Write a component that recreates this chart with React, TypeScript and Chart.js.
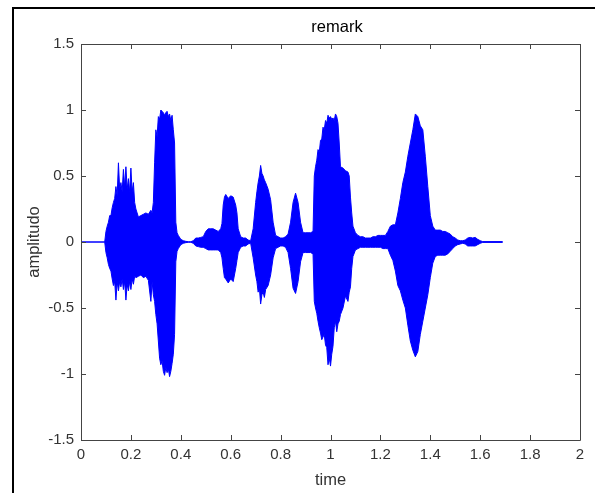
import React, { useEffect, useRef } from 'react';
import { Chart, registerables } from 'chart.js';

Chart.register(...registerables);

// sample times (s) at which the envelope of the waveform was read
const sampleTimes = [
  0, 0.095, 0.10, 0.105, 0.11, 0.115, 0.12, 0.125, 0.13, 0.135,
  0.14, 0.145, 0.15, 0.155, 0.16, 0.165, 0.17, 0.175, 0.18, 0.185,
  0.19, 0.195, 0.20, 0.205, 0.21, 0.215, 0.22, 0.23, 0.24, 0.25,
  0.26, 0.27, 0.28, 0.285, 0.29, 0.295, 0.30, 0.305, 0.31, 0.315,
  0.32, 0.325, 0.33, 0.335, 0.34, 0.345, 0.35, 0.355, 0.36, 0.365,
  0.37, 0.375, 0.38, 0.385, 0.39, 0.40, 0.41, 0.42, 0.43, 0.44,
  0.45, 0.46, 0.47, 0.48, 0.49, 0.50, 0.51, 0.52, 0.53, 0.54,
  0.55, 0.56, 0.565, 0.57, 0.575, 0.58, 0.59, 0.60, 0.61, 0.62,
  0.625, 0.63, 0.64, 0.65, 0.66, 0.67, 0.68, 0.69, 0.70, 0.705,
  0.71, 0.715, 0.72, 0.725, 0.73, 0.735, 0.74, 0.75, 0.76, 0.77,
  0.78, 0.79, 0.80, 0.81, 0.82, 0.83, 0.84, 0.85, 0.86, 0.87,
  0.88, 0.89, 0.90, 0.91, 0.92, 0.93, 0.935, 0.94, 0.945, 0.95,
  0.955, 0.96, 0.965, 0.97, 0.975, 0.98, 0.985, 0.99, 0.995, 1.00,
  1.005, 1.01, 1.015, 1.02, 1.025, 1.03, 1.035, 1.04, 1.05, 1.06,
  1.07, 1.075, 1.08, 1.085, 1.09, 1.10, 1.11, 1.12, 1.13, 1.14,
  1.15, 1.16, 1.17, 1.18, 1.19, 1.20, 1.21, 1.22, 1.23, 1.24,
  1.25, 1.26, 1.27, 1.28, 1.29, 1.30, 1.31, 1.32, 1.33, 1.34,
  1.35, 1.36, 1.37, 1.38, 1.39, 1.40, 1.41, 1.42, 1.43, 1.44,
  1.45, 1.46, 1.47, 1.48, 1.49, 1.50, 1.51, 1.52, 1.53, 1.54,
  1.55, 1.56, 1.57, 1.58, 1.59, 1.60, 1.61, 1.69,
];

// upper envelope of the amplitude (one value per sample time)
const upperEnvelope = [
  0, 0, 0.08, 0.12, 0.15, 0.2, 0.2, 0.26, 0.3, 0.33,
  0.42, 0.35, 0.6, 0.4, 0.45, 0.38, 0.55, 0.42, 0.57, 0.4,
  0.48, 0.38, 0.56, 0.38, 0.45, 0.3, 0.25, 0.19, 0.2, 0.21,
  0.22, 0.21, 0.24, 0.22, 0.3, 0.6, 0.85, 0.8, 0.95, 0.93,
  1.0, 0.99, 0.98, 0.96, 0.98, 0.99, 0.95, 0.97, 0.92, 0.96,
  0.85, 0.75, 0.15, 0.07, 0.05, 0.02, 0.01, 0.005, 0.002, 0.002,
  0.01, 0.03, 0.03, 0.035, 0.04, 0.08, 0.1, 0.1, 0.1, 0.09,
  0.08, 0.1, 0.14, 0.28, 0.34, 0.36, 0.33, 0.35, 0.34, 0.28,
  0.22, 0.1, 0.04, 0.03, 0.03, 0.015, 0.01, 0.1, 0.3, 0.38,
  0.45, 0.5, 0.58, 0.52, 0.5, 0.47, 0.45, 0.4, 0.32, 0.15,
  0.05, 0.04, 0.03, 0.03, 0.04, 0.06, 0.15, 0.3, 0.37, 0.3,
  0.15, 0.07, 0.07, 0.07, 0.07, 0.08, 0.5, 0.57, 0.62, 0.7,
  0.68, 0.77, 0.78, 0.87, 0.85, 0.92, 0.9, 0.96, 0.94, 0.95,
  0.93, 0.94, 0.92, 0.97, 0.95, 0.9, 0.75, 0.57, 0.56, 0.54,
  0.53, 0.5, 0.34, 0.22, 0.12, 0.07, 0.05, 0.04, 0.04, 0.03,
  0.03, 0.03, 0.04, 0.04, 0.05, 0.05, 0.05, 0.05, 0.08, 0.12,
  0.13, 0.13, 0.22, 0.33, 0.45, 0.53, 0.65, 0.75, 0.85, 0.97,
  0.95, 0.88, 0.85, 0.65, 0.42, 0.2, 0.12, 0.09, 0.09, 0.09,
  0.08, 0.08, 0.07, 0.06, 0.04, 0.03, 0.015, 0.01, 0.01, 0.015,
  0.03, 0.035, 0.03, 0.035, 0.02, 0.01, 0.003, 0.003,
];

// lower envelope of the amplitude (one value per sample time)
const lowerEnvelope = [
  0, 0, -0.08, -0.12, -0.17, -0.2, -0.22, -0.28, -0.33, -0.3,
  -0.44, -0.3, -0.37, -0.3, -0.34, -0.28, -0.36, -0.3, -0.44, -0.32,
  -0.37, -0.3, -0.36, -0.28, -0.32, -0.26, -0.27, -0.26, -0.25, -0.27,
  -0.26, -0.29, -0.45, -0.3, -0.4, -0.45, -0.55, -0.62, -0.75, -0.88,
  -0.93, -0.9, -0.98, -1.01, -0.95, -0.99, -0.96, -1.02, -0.98, -0.92,
  -0.85, -0.7, -0.15, -0.07, -0.05, -0.02, -0.01, -0.005, -0.002, -0.002,
  -0.01, -0.03, -0.035, -0.04, -0.04, -0.05, -0.06, -0.06, -0.06, -0.06,
  -0.06, -0.08, -0.12, -0.2, -0.27, -0.28, -0.31, -0.28, -0.3, -0.2,
  -0.14, -0.08, -0.04, -0.03, -0.03, -0.015, -0.01, -0.12, -0.25, -0.3,
  -0.38, -0.35, -0.47, -0.4, -0.38, -0.42, -0.36, -0.33, -0.25, -0.12,
  -0.05, -0.04, -0.03, -0.03, -0.04, -0.08, -0.2, -0.35, -0.39, -0.3,
  -0.15, -0.08, -0.08, -0.08, -0.08, -0.09, -0.45, -0.5, -0.54, -0.6,
  -0.65, -0.69, -0.74, -0.72, -0.7, -0.78, -0.8, -0.93, -0.88, -0.94,
  -0.85, -0.79, -0.65, -0.6, -0.68, -0.62, -0.6, -0.55, -0.5, -0.41,
  -0.45, -0.38, -0.34, -0.2, -0.11, -0.06, -0.05, -0.04, -0.04, -0.04,
  -0.04, -0.04, -0.04, -0.04, -0.04, -0.04, -0.05, -0.05, -0.05, -0.1,
  -0.14, -0.22, -0.33, -0.37, -0.44, -0.5, -0.63, -0.75, -0.82, -0.87,
  -0.83, -0.7, -0.6, -0.5, -0.4, -0.27, -0.16, -0.11, -0.1, -0.1,
  -0.1, -0.1, -0.09, -0.07, -0.05, -0.03, -0.02, -0.015, -0.01, -0.015,
  -0.03, -0.03, -0.03, -0.03, -0.02, -0.01, -0.003, -0.003,
];

const xTickValues = [0, 0.2, 0.4, 0.6, 0.8, 1, 1.2, 1.4, 1.6, 1.8, 2];
const xTickLabels = ['0', '0.2', '0.4', '0.6', '0.8', '1', '1.2', '1.4', '1.6', '1.8', '2'];
const yTickValues = [-1.5, -1, -0.5, 0, 0.5, 1, 1.5];
const yTickLabels = ['-1.5', '-1', '-0.5', '0', '0.5', '1', '1.5'];

const chartTitle = 'remark';
const xAxisTitle = 'time';
const yAxisTitle = 'amplitudo';

const FONT = '"Liberation Sans", Arial, Helvetica, sans-serif';
const TEXT_COLOR = '#333333';
const AXIS_COLOR = '#444444';
const WAVE_COLOR = 'rgb(0, 0, 255)';

const boxPlugin = {
  id: 'matlabBox',
  afterDatasetsDraw(chart: any) {
    const { ctx, chartArea, scales } = chart;
    const { left, right, top, bottom } = chartArea;
    const tl = 5;
    ctx.save();
    ctx.strokeStyle = AXIS_COLOR;
    ctx.lineWidth = 1;
    ctx.beginPath();
    ctx.rect(Math.round(left) + 0.5, Math.round(top) + 0.5, Math.round(right - left), Math.round(bottom - top));
    ctx.stroke();
    ctx.beginPath();
    for (const v of xTickValues) {
      const px = Math.round(scales.x.getPixelForValue(v)) + 0.5;
      ctx.moveTo(px, bottom);
      ctx.lineTo(px, bottom - tl);
      ctx.moveTo(px, top);
      ctx.lineTo(px, top + tl);
    }
    for (const v of yTickValues) {
      const py = Math.round(scales.y.getPixelForValue(v)) + 0.5;
      ctx.moveTo(left, py);
      ctx.lineTo(left + tl, py);
      ctx.moveTo(right, py);
      ctx.lineTo(right - tl, py);
    }
    ctx.stroke();
    ctx.restore();
  },
  afterDraw(chart: any) {
    const { ctx } = chart;
    ctx.save();
    ctx.font = `16.5px ${FONT}`;
    ctx.fillStyle = '#000';
    ctx.textAlign = 'center';
    ctx.textBaseline = 'alphabetic';
    ctx.fillText(chartTitle, 337, 32);
    ctx.restore();
  },
};

export default function App() {
  const canvasRef = useRef<HTMLCanvasElement | null>(null);

  useEffect(() => {
    if (!canvasRef.current) return;
    Chart.defaults.font.family = FONT;
    const upper = sampleTimes.map((t, i) => ({ x: t, y: upperEnvelope[i] }));
    const lower = sampleTimes.map((t, i) => ({ x: t, y: lowerEnvelope[i] }));
    const chart = new Chart(canvasRef.current, {
      type: 'line',
      data: {
        datasets: [
          {
            label: 'upper',
            data: upper,
            borderColor: WAVE_COLOR,
            backgroundColor: WAVE_COLOR,
            borderWidth: 1,
            pointRadius: 0,
            tension: 0,
            fill: '+1',
          },
          {
            label: 'lower',
            data: lower,
            borderColor: WAVE_COLOR,
            backgroundColor: WAVE_COLOR,
            borderWidth: 1,
            pointRadius: 0,
            tension: 0,
            fill: false,
          },
        ],
      },
      options: {
        responsive: false,
        animation: false,
        events: [],
        layout: { padding: { left: 0, right: 15, top: 44, bottom: 0 } },
        plugins: {
          legend: { display: false },
          title: { display: false },
          tooltip: { enabled: false },
        },
        scales: {
          x: {
            type: 'linear',
            min: 0,
            max: 2,
            grid: { display: false, drawTicks: false },
            border: { display: false },
            afterBuildTicks: (scale: any) => {
              scale.ticks = xTickValues.map((v) => ({ value: v }));
            },
            afterFit: (scale: any) => {
              scale.height = 53;
            },
            ticks: {
              autoSkip: false,
              maxRotation: 0,
              padding: 6,
              color: TEXT_COLOR,
              font: { size: 15 },
              callback: (_v: any, i: number) => xTickLabels[i],
            },
            title: {
              display: true,
              text: xAxisTitle,
              color: TEXT_COLOR,
              font: { size: 16.5 },
              padding: { top: 0, bottom: 3 },
            },
          },
          y: {
            type: 'linear',
            min: -1.5,
            max: 1.5,
            grid: { display: false, drawTicks: false },
            border: { display: false },
            afterBuildTicks: (scale: any) => {
              scale.ticks = yTickValues.map((v) => ({ value: v }));
            },
            afterFit: (scale: any) => {
              scale.width = 81;
            },
            ticks: {
              autoSkip: false,
              padding: 7,
              color: TEXT_COLOR,
              font: { size: 15 },
              callback: (_v: any, i: number) => yTickLabels[i],
            },
            title: {
              display: true,
              text: yAxisTitle,
              color: TEXT_COLOR,
              font: { size: 16.5 },
              padding: { top: 25, bottom: 0 },
            },
          },
        },
      },
      plugins: [boxPlugin],
    });
    return () => chart.destroy();
  }, []);

  return (
    <div style={{ position: 'fixed', left: 0, top: 0, width: 595, height: 493, background: '#fff', overflow: 'hidden' }}>
      <canvas ref={canvasRef} width={595} height={493} style={{ position: 'absolute', left: 0, top: 0, width: 595, height: 493 }} />
      <div
        style={{
          position: 'absolute',
          left: 12,
          top: 7,
          right: 0,
          bottom: 0,
          borderLeft: '2px solid #000',
          borderTop: '2px solid #000',
          pointerEvents: 'none',
        }}
      />
    </div>
  );
}
